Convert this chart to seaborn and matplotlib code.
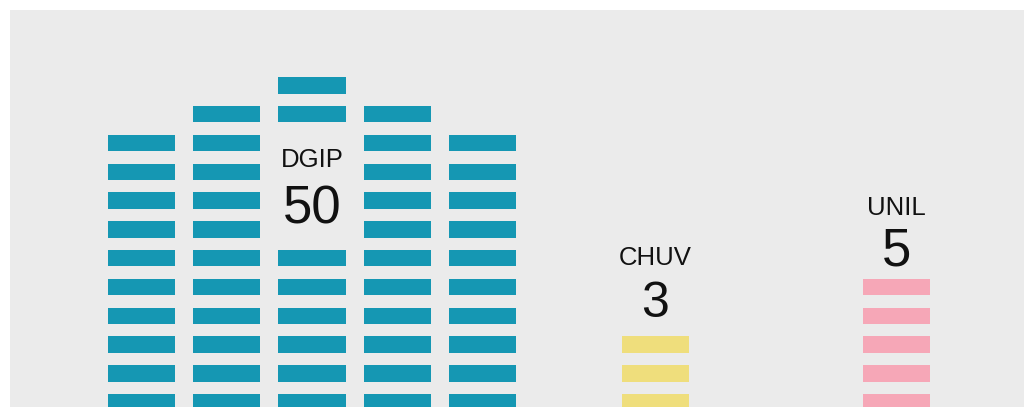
import matplotlib
matplotlib.use("Agg")
import matplotlib.pyplot as plt
import seaborn as sns
import pandas as pd

# data
groups = ["DGIP", "CHUV", "UNIL"]
totals = [50, 3, 5]
# number of slots per column, bottom to top
dgip_columns = [10, 11, 12, 11, 10]
chuv_columns = [3]
unil_columns = [5]
# rows left blank in the middle DGIP column to make room for the label
dgip_blank_rows = [6, 7, 8, 9]

colors = {"DGIP": "#1597b3", "CHUV": "#efde7c", "UNIL": "#f6a7b7"}

# layout (slot units)
group_start = {"DGIP": 0, "CHUV": 6.03, "UNIL": 8.86}
bar_w = 0.79
bar_h = 0.575

# build one row per cell
cells = []
for g, cols in zip(groups, [dgip_columns, chuv_columns, unil_columns]):
    for i, n in enumerate(cols):
        for r in range(n):
            if g == "DGIP" and i == 2 and r in dgip_blank_rows:
                continue
            cells.append({"group": g, "x": group_start[g] + i, "row": r})
df = pd.DataFrame(cells)

sns.set_theme(style="white")
plt.rcParams["font.family"] = ["Liberation Sans", "DejaVu Sans"]

fig = plt.figure(figsize=(10.24, 4.07), dpi=100)
fig.patch.set_facecolor("white")
ax = fig.add_axes([10 / 1024, 0, 1014 / 1024, 397 / 407])
ax.set_facecolor("#ebebeb")

for g in groups:
    sub = df[df.group == g]
    ax.bar(sub.x, bar_h, bottom=sub.row, width=bar_w, align="center",
           color=colors[g], linewidth=0)

# labels: name then value
label_pos = {"DGIP": (2, 8.45, 6.5), "CHUV": (6.03, 5.05, 3.25), "UNIL": (8.86, 6.79, 5.05)}
num_size = {"DGIP": 38, "CHUV": 36, "UNIL": 38}
for g, t in zip(groups, totals):
    x, y_name, y_num = label_pos[g]
    ax.text(x, y_name, g, ha="center", va="baseline", fontsize=18.5, color="#111111")
    ax.text(x, y_num, str(t), ha="center", va="baseline", fontsize=num_size[g], color="#111111")

ax.set_xlim(-1.5425, 10.352)
ax.set_ylim(0.12, 13.906)
for s in ax.spines.values():
    s.set_visible(False)
ax.set_xticks([])
ax.set_yticks([])

fig.savefig("out.png", dpi=100, facecolor="white")
